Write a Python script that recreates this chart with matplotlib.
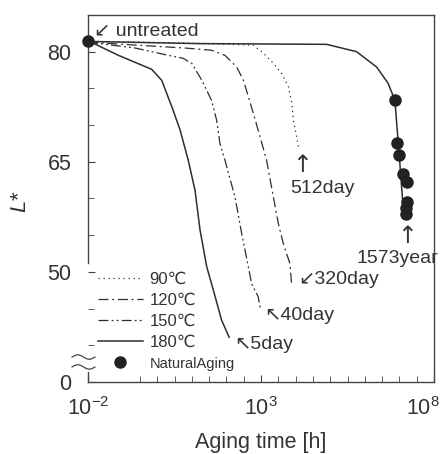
import numpy as np
import matplotlib
matplotlib.use("Agg")
import matplotlib.pyplot as plt
from matplotlib.ticker import FixedLocator, FixedFormatter, NullFormatter
from matplotlib.transforms import ScaledTranslation

plt.rcParams['font.family'] = ['Liberation Sans', 'DejaVu Sans']
plt.rcParams['mathtext.fontset'] = 'custom'
plt.rcParams['mathtext.rm'] = 'Liberation Sans'
plt.rcParams['mathtext.it'] = 'Liberation Sans:italic'
plt.rcParams['axes.unicode_minus'] = False

# aging curves, time in hours, L* value
t90 = [0.01, 4.6, 600, 1170, 2290, 4000, 6200, 7750, 8600, 10700, 12288]
L90 = [81.4, 81.2, 80.9, 79.8, 78.4, 77.0, 75.2, 73.0, 70.7, 68.4, 66.8]

t120 = [0.01, 0.23, 6.3, 37, 91, 199, 310, 430, 600, 940, 1450, 2280, 3160, 4390, 6880, 7680]
L120 = [81.3, 80.9, 80.5, 80.2, 79.5, 77.9, 76.1, 73.9, 71.6, 68.4, 65.2, 60.2, 56.6, 53.9, 51.1, 48.2]

t150 = [0.01, 0.23, 2.1, 5.6, 10, 19.5, 37, 52, 65, 91, 177, 277, 430, 535, 830, 960]
L150 = [81.3, 80.5, 79.5, 79.1, 78.4, 76.1, 73.4, 70.7, 67.5, 65.2, 60.2, 55.2, 50.7, 48.4, 46.6, 45.0]

t180 = [0.01, 0.076, 0.69, 1.35, 2.9, 4.6, 7.9, 12.4, 17.3, 27, 42, 73, 120]
L180 = [81.5, 79.5, 77.6, 76.1, 72.0, 69.3, 65.2, 61.1, 55.7, 50.7, 47.5, 43.4, 41.1]

# natural aging fit line and observed samples
t_nat = [0.01, 17, 7.9e4, 5.8e5, 2.2e6, 4.7e6, 7.4e6, 1.04e7, 1.3e7, 1.45e7]
L_nat = [81.4, 81.1, 81.0, 80.0, 77.9, 75.7, 73.4, 64.5, 58.4, 57.7]

t_obs = [7.7e6, 8.7e6, 9.8e6, 1.3e7, 1.7e7, 1.63e7, 1.55e7, 1.5e7]
L_obs = [73.4, 67.5, 65.9, 63.4, 62.3, 59.5, 58.7, 57.9]

t_untreated = 0.01
L_untreated = 81.5

ytick_vals = [35, 50, 65, 80]
ytick_labels = ['0', '50', '65', '80']

col = '#2e2e2e'

fig = plt.figure(figsize=(4.4, 4.54), dpi=100)
ax = fig.add_axes([0.2, 0.1586, 0.7864, 0.8084])

ax.plot(t90, L90, color=col, lw=0.9, ls=(0, (1, 3)), label='90\u2103')
ax.plot(t120, L120, color=col, lw=0.9, ls=(0, (8, 3, 1.5, 3)), label='120\u2103')
ax.plot(t150, L150, color=col, lw=0.9, ls=(0, (8, 2.5, 1.5, 2.5, 1.5, 2.5)), label='150\u2103')
ax.plot(t180, L180, color=col, lw=1.1, label='180\u2103')
ax.plot(t_nat, L_nat, color=col, lw=1.1)
ax.plot(t_obs, L_obs, 'o', color='#222222', ms=8, label='NaturalAging')
ax.plot([t_untreated], [L_untreated], 'o', color='#222222', ms=8, clip_on=False, zorder=5)

ax.set_xscale('log')
ax.set_xlim(1e-2, 1e8)
ax.set_ylim(35, 85)

ax.xaxis.set_major_locator(FixedLocator([1e-2, 1e3, 1e8]))
ax.xaxis.set_minor_locator(FixedLocator([10 ** (k / 2) for k in range(-1, 16)]))
ax.xaxis.set_minor_formatter(NullFormatter())
ax.yaxis.set_major_locator(FixedLocator(ytick_vals))
ax.yaxis.set_major_formatter(FixedFormatter(ytick_labels))
ax.yaxis.set_minor_locator(FixedLocator(np.arange(35, 86, 5)))

ax.tick_params(which='both', direction='in', top=False, right=False, colors='#444444',
               labelcolor='#333333', labelsize=15.5)
ax.tick_params(axis='x', which='both', pad=11)
ax.tick_params(axis='y', which='both', pad=12)
ax.tick_params(which='major', length=5)
ax.tick_params(which='minor', length=4)
for s in ax.spines.values():
    s.set_color('#444444')
    s.set_linewidth(1.0)

# broken y axis
ax.spines['left'].set_bounds(51.2, 85)
ax.plot([0, 0], [0, 0.027], transform=ax.transAxes, color='#444444', lw=1.0, clip_on=False)
wx = np.linspace(-0.046, 0.02, 30)
for yb in [0.068, 0.041]:
    ax.plot(wx, yb + 0.006 * np.sin((wx - wx[0]) / (wx[-1] - wx[0]) * 2 * np.pi),
            transform=ax.transAxes, color='#444444', lw=0.9, clip_on=False)

ax.set_xlabel('Aging time [h]', fontsize=15.5, color='#333333')
ax.set_ylabel(r'$L$*', fontsize=16, color='#333333')
ax.yaxis.set_label_coords(-0.165, 0.49)
ax.xaxis.set_label_coords(0.5, -0.135)

fs = 14
tc = '#333333'
arr = dict(fontsize=17, color=tc, family='DejaVu Sans', va='center', ha='center')
ax.text(0.0148, 82.7, '\u2199 untreated', fontsize=fs, color=tc, va='center', ha='left')
ax.text(1.5e4, 64.6, '\u2191', **arr)
ax.text(6900, 61.4, '512day', fontsize=fs, color=tc, va='center', ha='left')
ax.text(1.17e4, 48.9, '\u2199320day', fontsize=fs, color=tc, va='center', ha='left')
ax.text(1230, 44.1, '\u219640day', fontsize=fs, color=tc, va='center', ha='left')
ax.text(166, 40.1, '\u21965day', fontsize=fs, color=tc, va='center', ha='left')
ax.text(1.65e7, 54.9, '\u2191', **arr)
ax.text(5.9e5, 51.8, '1573year', fontsize=fs, color=tc, va='center', ha='left', clip_on=False)

leg = ax.legend(loc='lower left', bbox_to_anchor=(-0.015, -0.01), frameon=False, fontsize=12,
                handlelength=2.7, handletextpad=0.4, labelspacing=0.36, borderpad=0.4,
                labelcolor='#333333')
leg.get_texts()[-1].set_fontsize(10.5)

# pull the last x tick label inside the figure
fig.canvas.draw()
lab = ax.xaxis.get_major_ticks()[-1].label1
lab.set_transform(lab.get_transform() + ScaledTranslation(-11 / 100, 0, fig.dpi_scale_trans))

fig.savefig('out.png', dpi=100)
